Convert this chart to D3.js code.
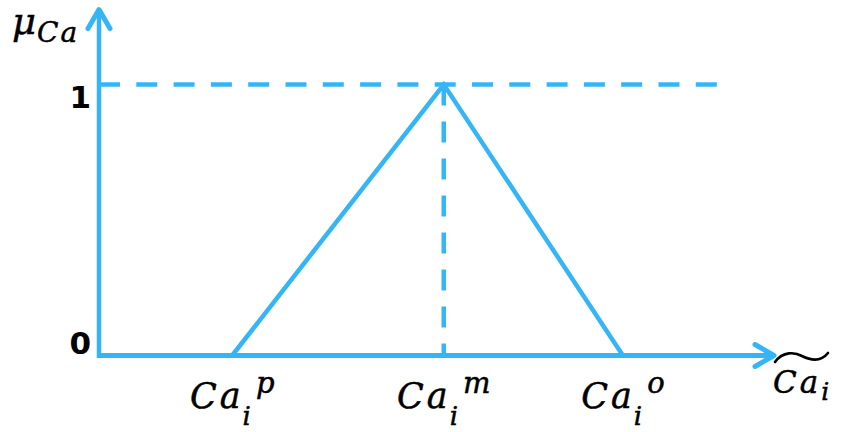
<!DOCTYPE html>
<html>
<head>
<meta charset="utf-8">
<script src="https://cdn.jsdelivr.net/npm/d3@7"></script>
<style>
  html, body { margin: 0; padding: 0; background: #fff; }
  svg { display: block; }
</style>
</head>
<body>
<svg id="chart" width="842" height="432"></svg>
<script>
// Triangular fuzzy number: pessimistic, most likely, optimistic
const pointKeys = ["p", "m", "o"];
const pointValues = [19.7, 51, 77.5];
const membership = [0, 1, 0];
const yTickValues = [0, 1];
const yTickLabels = ["0", "1"];

const BLUE = "#36b5f6";
const svg = d3.select("#chart");

const x = d3.scaleLinear().domain([0, 100]).range([99, 775]);
const y = d3.scaleLinear().domain([0, 1]).range([355.5, 84.5]);

const mathFont = "'DejaVu Serif', serif";
const ink = { fill: "#000", stroke: "#000", sw: 0.5 };

// dashed guide at membership 1 and down from the peak
const peakIdx = membership.indexOf(1);
svg.append("line")
  .attr("x1", x(0)).attr("x2", x(91.5))
  .attr("y1", y(1)).attr("y2", y(1))
  .attr("stroke", BLUE).attr("stroke-width", 4.5)
  .attr("stroke-dasharray", "21,16.3");
svg.append("line")
  .attr("x1", x(pointValues[peakIdx])).attr("x2", x(pointValues[peakIdx]))
  .attr("y1", y(1)).attr("y2", y(0))
  .attr("stroke", BLUE).attr("stroke-width", 4.5)
  .attr("stroke-dasharray", "21,16");

// membership function
const line = d3.line().x((d, i) => x(pointValues[i])).y(d => y(d));
svg.append("path")
  .datum(membership)
  .attr("d", line)
  .attr("fill", "none")
  .attr("stroke", BLUE)
  .attr("stroke-width", 4.5)
  .attr("stroke-linejoin", "miter");

// axes
svg.append("line")
  .attr("x1", x(0) - 2).attr("x2", x(100) - 3)
  .attr("y1", y(0)).attr("y2", y(0))
  .attr("stroke", BLUE).attr("stroke-width", 5);
svg.append("line")
  .attr("x1", x(0)).attr("x2", x(0))
  .attr("y1", y(0) + 2.5).attr("y2", y(1.28) + 3)
  .attr("stroke", BLUE).attr("stroke-width", 4.5);

// arrow heads
const yTip = [x(0), y(1.28)];
svg.append("path")
  .attr("d", `M${yTip[0] - 11},${yTip[1] + 20} L${yTip[0]},${yTip[1] + 1} L${yTip[0] + 11},${yTip[1] + 20}`)
  .attr("fill", "none").attr("stroke", BLUE).attr("stroke-width", 5)
  .attr("stroke-linecap", "round").attr("stroke-linejoin", "round");
const xTip = [x(100), y(0)];
svg.append("path")
  .attr("d", `M${xTip[0] - 20},${xTip[1] - 11} L${xTip[0] - 1},${xTip[1]} L${xTip[0] - 20},${xTip[1] + 11}`)
  .attr("fill", "none").attr("stroke", BLUE).attr("stroke-width", 5)
  .attr("stroke-linecap", "round").attr("stroke-linejoin", "round");

// y tick labels
svg.selectAll(".ytick")
  .data(yTickValues)
  .join("text")
  .attr("class", "ytick")
  .attr("x", x(0) - 8)
  .attr("y", d => y(d) + (d === 0 ? -2 : 23))
  .attr("text-anchor", "end")
  .attr("font-family", "'DejaVu Sans', sans-serif")
  .attr("font-weight", "bold")
  .attr("font-size", 31)
  .attr("fill", "#000")
  .text((d, i) => yTickLabels[i]);

function mathText(sel) {
  return sel.append("text")
    .attr("font-family", mathFont)
    .attr("font-style", "italic")
    .attr("fill", ink.fill)
    .attr("stroke", ink.stroke)
    .attr("stroke-width", ink.sw);
}

// x tick labels: Ca_i^k centred under each point
pointKeys.forEach((k, i) => {
  const g = svg.append("g");
  const t = mathText(g).attr("y", 408);
  t.append("tspan").attr("font-size", 35).attr("x", 0).text("C");
  t.append("tspan").attr("font-size", 35).attr("dx", 3).text("a");
  t.append("tspan").attr("font-size", 26).attr("dx", 2).attr("dy", 17).text("i");
  t.append("tspan").attr("font-size", 29).attr("dx", 5).attr("dy", -32).text(k);
  const bb = t.node().getBBox();
  g.attr("transform", `translate(${x(pointValues[i]) - (bb.x + bb.width / 2)},0)`);
});

// x axis title: widetilde Ca, subscript i
const xt = mathText(svg).attr("x", 773).attr("y", 393);
xt.append("tspan").attr("font-size", 31).text("C");
xt.append("tspan").attr("font-size", 31).attr("dx", 3).text("a");
xt.append("tspan").attr("font-size", 25).attr("dx", 3).attr("dy", 7).text("i");
svg.append("path")
  .attr("d", "M775,362 C783,351 795,352 802,356 C810,360 820,363 828,353")
  .attr("fill", "none").attr("stroke", "#000").attr("stroke-width", 2.6)
  .attr("stroke-linecap", "round");

// y axis title: mu_Ca
const yt = mathText(svg).attr("x", 12).attr("y", 34);
yt.append("tspan").attr("font-size", 37).text("μ");
yt.append("tspan").attr("font-size", 28).attr("dx", 1).attr("dy", 8).text("C");
yt.append("tspan").attr("font-size", 28).attr("dx", 2).text("a");
</script>
</body>
</html>
